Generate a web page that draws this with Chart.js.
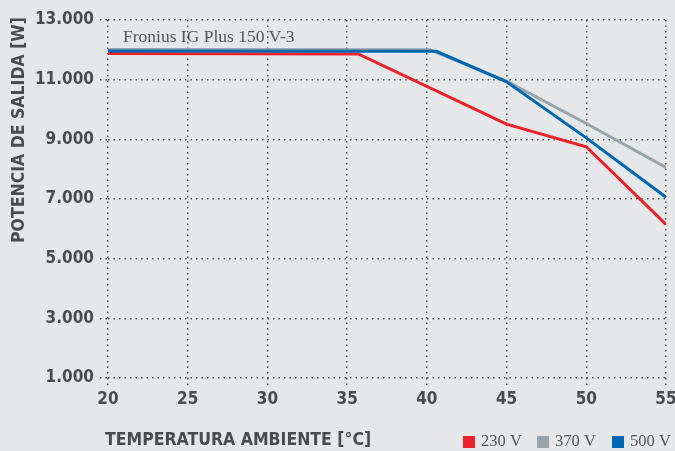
<!DOCTYPE html>
<html>
<head>
<meta charset="utf-8">
<script src="https://cdn.jsdelivr.net/npm/chart.js@4"></script>
<style>
html,body{margin:0;padding:0;background:#e6e7e9;}
#wrap{width:675px;height:451px;position:relative;}
</style>
</head>
<body>
<div id="wrap"><canvas id="c" width="675" height="451"></canvas></div>
<script>
// ---- data ----
const seriesNames = ['230 V', '370 V', '500 V'];
const temps230 = [20, 35.7, 45, 50, 55];
const power230 = [11880, 11860, 9510, 8750, 6150];
const temps370 = [20, 40.2, 45, 50, 55];
const power370 = [12010, 12000, 10950, 9530, 8060];
const temps500 = [20, 40.6, 45, 50, 55];
const power500 = [11960, 11950, 10930, 9050, 7060];
const xTicks = [20, 25, 30, 35, 40, 45, 50, 55];
const yTicks = [1000, 3000, 5000, 7000, 9000, 11000, 13000];
const yTickLabels = ['1.000', '3.000', '5.000', '7.000', '9.000', '11.000', '13.000'];
const chartLabel = 'Fronius IG Plus 150 V-3';
const xTitle = 'TEMPERATURA AMBIENTE [°C]';
const yTitle = 'POTENCIA DE SALIDA [W]';

const colors = ['#e8212b', '#98a3aa', '#0067b2'];
const boldFont = "'DejaVu Sans Condensed', 'Liberation Sans Narrow', sans-serif";
const serifFont = "'Liberation Serif', 'DejaVu Serif', serif";
const textColor = '#4a4b4d';

function pts(xs, ys){ return xs.map((x,i)=>({x:x, y:ys[i]})); }

const extras = {
  id: 'extras',
  afterDraw(chart){
    const ctx = chart.ctx;
    ctx.save();
    // inner label
    ctx.fillStyle = '#555';
    ctx.font = "17.5px " + serifFont;
    ctx.textBaseline = 'middle';
    ctx.textAlign = 'left';
    ctx.fillText(chartLabel, 123, 37);
    // y title
    ctx.save();
    ctx.translate(19, 130);
    ctx.rotate(-Math.PI/2);
    ctx.font = "bold 17.5px " + boldFont;
    ctx.fillStyle = textColor;
    ctx.textAlign = 'center';
    ctx.textBaseline = 'middle';
    ctx.fillText(yTitle, 0, 0);
    ctx.restore();
    // x title
    ctx.font = "bold 17.5px " + boldFont;
    ctx.fillStyle = textColor;
    ctx.textAlign = 'left';
    ctx.textBaseline = 'middle';
    ctx.fillText(xTitle, 105, 440);
    // legend
    ctx.font = "16.5px " + serifFont;
    const ly = 442;
    const legendX = [463, 537, 612];
    seriesNames.forEach((n,i)=>{
      ctx.fillStyle = colors[i];
      ctx.fillRect(legendX[i], ly-6, 12, 12);
      ctx.fillStyle = '#555';
      ctx.fillText(n, legendX[i] + 18, ly);
    });
    ctx.restore();
  }
};

new Chart(document.getElementById('c'), {
  type: 'line',
  data: {
    datasets: [
      {label: seriesNames[1], data: pts(temps370, power370), borderColor: colors[1], order: 3},
      {label: seriesNames[0], data: pts(temps230, power230), borderColor: colors[0], order: 2},
      {label: seriesNames[2], data: pts(temps500, power500), borderColor: colors[2], order: 1}
    ]
  },
  options: {
    responsive: false,
    animation: false,
    devicePixelRatio: 1,
    layout: {padding: {top: 20, right: 9, left: 0, bottom: 0}},
    elements: {
      line: {borderWidth: 3, tension: 0, fill: false},
      point: {radius: 0}
    },
    plugins: {legend: {display: false}, tooltip: {enabled: false}},
    scales: {
      x: {
        type: 'linear', min: 20, max: 55,
        afterBuildTicks(scale){ scale.ticks = xTicks.map(v=>({value:v})); },
        afterFit(scale){ scale.height = 73; scale.paddingLeft = 0; scale.paddingRight = 0; },
        grid: {color: '#555', lineWidth: 1.5, tickBorderDash: [1.5, 4], tickLength: 7, drawTicks: true},
        border: {display: false, dash: [1.5, 4]},
        ticks: {color: textColor, font: {family: boldFont, size: 17, weight: 'bold'}, padding: 4, maxRotation: 0}
      },
      y: {
        min: 1000, max: 13000,
        afterBuildTicks(scale){ scale.ticks = yTicks.map(v=>({value:v})); },
        afterFit(scale){ scale.width = 108; scale.paddingTop = 0; scale.paddingBottom = 0; },
        grid: {color: '#555', lineWidth: 1.5, tickBorderDash: [1.5, 4], tickLength: 8, drawTicks: true},
        border: {display: false, dash: [1.5, 4]},
        ticks: {color: textColor, font: {family: boldFont, size: 17, weight: 'bold'}, padding: 6,
          callback: (v)=>{ const i = yTicks.indexOf(v); return i>=0 ? yTickLabels[i] : ''; }}
      }
    }
  },
  plugins: [extras]
});
</script>
</body>
</html>
